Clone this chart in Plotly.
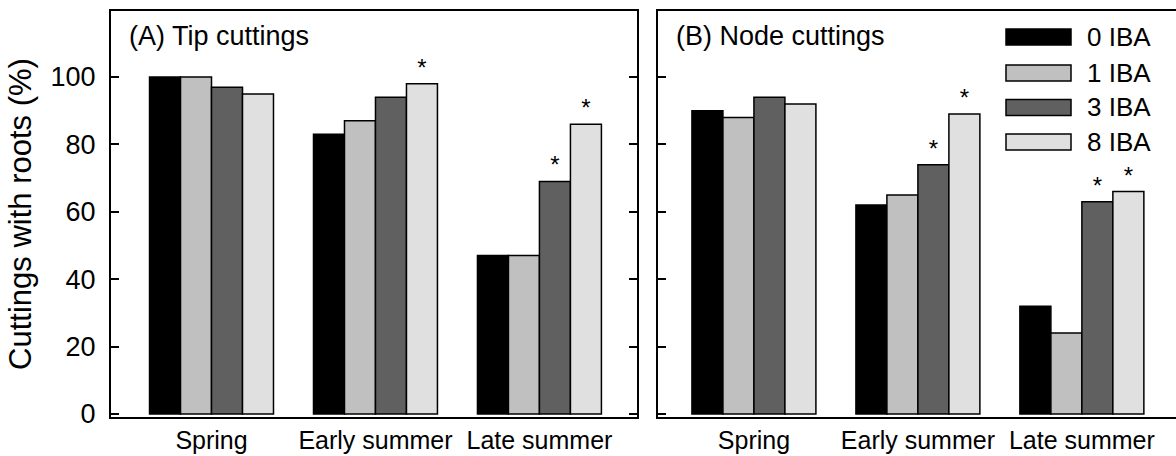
import plotly.graph_objects as go

seasons = ["Spring", "Early summer", "Late summer"]
series_names = ["0 IBA", "1 IBA", "3 IBA", "8 IBA"]
series_colors = ["#000000", "#c0c0c0", "#606060", "#e0e0e0"]

# Panel A: Tip cuttings (% cuttings with roots)
tip_0 = [100, 83, 47]
tip_1 = [100, 87, 47]
tip_3 = [97, 94, 69]
tip_8 = [95, 98, 86]
tip_sig_0 = ["", "", ""]
tip_sig_1 = ["", "", ""]
tip_sig_3 = ["", "", "*"]
tip_sig_8 = ["", "*", "*"]

# Panel B: Node cuttings
node_0 = [90, 62, 32]
node_1 = [88, 65, 24]
node_3 = [94, 74, 63]
node_8 = [92, 89, 66]
node_sig_0 = ["", "", ""]
node_sig_1 = ["", "", ""]
node_sig_3 = ["", "*", "*"]
node_sig_8 = ["", "*", "*"]

y_ticks = [0, 20, 40, 60, 80, 100]

FONT = "Liberation Sans, Arial, sans-serif"
W, H = 1176, 456
L, R, T, B = 111, 0, 11, 39
PW, PH = W - L - R, H - T - B

fig = go.Figure()

tip_vals = [tip_0, tip_1, tip_3, tip_8]
tip_sigs = [tip_sig_0, tip_sig_1, tip_sig_3, tip_sig_8]
node_vals = [node_0, node_1, node_3, node_8]
node_sigs = [node_sig_0, node_sig_1, node_sig_3, node_sig_8]

for vals, sigs, xa, ya in [(tip_vals, tip_sigs, "x", "y"), (node_vals, node_sigs, "x2", "y2")]:
    for name, color, v, s in zip(series_names, series_colors, vals, sigs):
        fig.add_trace(go.Bar(
            x=seasons, y=v, name=name, text=s,
            textposition="outside", constraintext="none", cliponaxis=False,
            textfont=dict(family=FONT, size=24, color="black"),
            marker=dict(color=color, line=dict(color="black", width=1.5)),
            xaxis=xa, yaxis=ya, showlegend=False,
        ))

d1_end = 526 / PW
d2_start = 547 / PW

axis_common = dict(showline=True, linecolor="black", linewidth=2, showgrid=False,
                   zeroline=False, automargin=False)

fig.update_layout(
    width=W, height=H,
    margin=dict(l=L, r=R, t=T, b=B, pad=0, autoexpand=False),
    paper_bgcolor="white", plot_bgcolor="white",
    barmode="group", bargap=0.244, bargroupgap=0,
    font=dict(family=FONT, size=27, color="black"),
    xaxis=dict(domain=[0, d1_end], range=[-0.613, 2.595], mirror=True, ticks="",
               tickangle=0, tickfont=dict(size=25), ticklabelstandoff=0, **axis_common),
    xaxis2=dict(domain=[d2_start, 1], range=[-0.585, 2.574], mirror=True, ticks="",
                tickangle=0, tickfont=dict(size=25), ticklabelstandoff=0, **axis_common),
    yaxis=dict(range=[-0.9, 119.6], tickvals=y_ticks, ticks="inside", ticklen=8, tickwidth=2,
               tickcolor="black", mirror="ticks", tickfont=dict(size=27), ticklabelstandoff=8,
               title=dict(text="Cuttings with roots (%)", font=dict(size=31), standoff=10),
               anchor="x", **axis_common),
    yaxis2=dict(range=[-0.9, 119.6], tickvals=y_ticks, ticks="inside", ticklen=8, tickwidth=2,
                tickcolor="black", mirror=False, showticklabels=False, anchor="x2", **axis_common),
)

# Panel labels
fig.add_annotation(text="(A) Tip cuttings", xref="x domain", yref="y domain", x=(127 - 111) / 526,
                   y=(417 - 19) / PH, xanchor="left", yanchor="top", showarrow=False,
                   font=dict(size=27))
fig.add_annotation(text="(B) Node cuttings", xref="x2 domain", yref="y2 domain", x=(674 - 658) / 518,
                   y=(417 - 19) / PH, xanchor="left", yanchor="top", showarrow=False,
                   font=dict(size=27))

# Custom legend (wide swatches as in the reference)
sw_x0, sw_x1 = 1006, 1071
row_centers = [37, 73, 107.5, 142]
sw_h = 16
for name, color, cy in zip(series_names, series_colors, row_centers):
    fig.add_shape(type="rect", xref="paper", yref="paper",
                  x0=(sw_x0 - L) / PW, x1=(sw_x1 - L) / PW,
                  y0=(H - B - (cy + sw_h / 2)) / PH, y1=(H - B - (cy - sw_h / 2)) / PH,
                  fillcolor=color, line=dict(color="black", width=1.5))
    fig.add_annotation(text=name, xref="paper", yref="paper", x=(1085 - L) / PW,
                       y=(H - B - cy) / PH, xanchor="left", yanchor="middle", showarrow=False,
                       font=dict(size=26))

fig.write_html("out.html", config={"displayModeBar": False},
               post_script="document.body.style.margin='0';document.body.style.overflow='hidden';")
